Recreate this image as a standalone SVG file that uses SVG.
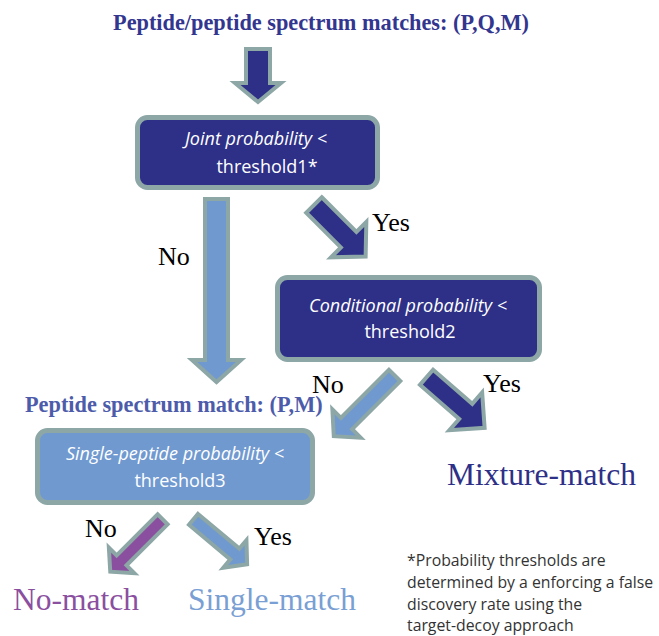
<svg xmlns="http://www.w3.org/2000/svg" width="659" height="636" viewBox="0 0 659 636">
<style>
.box{stroke:#8da6a6;stroke-width:5}
.arr{stroke:#8da6a6;stroke-width:4;stroke-linejoin:miter}
.dark{fill:#2e3087}
.light{fill:#7099d0}
.purple{fill:#8b4f9f}
.bt{font-family:"Open Sans","Noto Sans",sans-serif;font-size:18px;fill:#ffffff;text-anchor:middle}
.it{font-style:italic}
.lab{font-family:"Liberation Serif","Times New Roman",serif;font-size:26px;fill:#000000}
.title{font-family:"Liberation Serif","Times New Roman",serif;font-weight:bold;font-size:22.3px}
.res{font-family:"Liberation Serif","Times New Roman",serif;font-size:31.5px}
.note{font-family:"Open Sans","Noto Sans",sans-serif;font-size:15.8px;fill:#333333}
</style>
<g id="title1"><text class="title" x="321" y="30" text-anchor="middle" fill="#33368f">Peptide/peptide spectrum matches: (P,Q,M)</text></g>

<g id="connectors">
  <path class="arr dark" transform="translate(258,49) rotate(90)" d="M0,-12 L34,-12 L34,-23 L53,0 L34,23 L34,12 L0,12 Z"/>
  <path class="arr light" transform="translate(216.5,199) rotate(90)" d="M0,-11.5 L161,-11.5 L161,-24.5 L183,0 L161,24.5 L161,11.5 L0,11.5 Z"/>
  <path class="arr dark" transform="translate(314,205) rotate(45)" d="M0,-11 L49,-11 L49,-25 L73,0 L49,25 L49,11 L0,11 Z"/>
  <path class="arr light" transform="translate(394.6,375.4) rotate(135)" d="M0,-8 L68,-8 L68,-20 L86,0 L68,20 L68,8 L0,8 Z"/>
  <path class="arr dark" transform="translate(426.5,377.3) rotate(41)" d="M0,-10 L52,-10 L52,-25 L77,0 L52,25 L52,10 L0,10 Z"/>
  <path class="arr purple" transform="translate(162.6,519.4) rotate(135)" d="M0,-7 L58,-7 L58,-18 L74,0 L58,18 L58,7 L0,7 Z"/>
  <path class="arr light" transform="translate(193.5,519.3) rotate(40)" d="M0,-7 L54,-7 L54,-18 L70,0 L54,18 L54,7 L0,7 Z"/>
  <text class="lab" x="158" y="265">No</text>
  <text class="lab" x="372" y="231">Yes</text>
  <text class="lab" x="312" y="393">No</text>
  <text class="lab" x="483" y="392">Yes</text>
  <text class="lab" x="85" y="537">No</text>
  <text class="lab" x="254" y="545">Yes</text>
</g>

<g id="box1">
  <rect class="box dark" x="137.5" y="117.5" width="240" height="70" rx="10"/>
  <text class="bt it" x="256" y="145">Joint probability &lt;</text>
  <text class="bt" x="267" y="173">threshold1*</text>
</g>

<g id="box2">
  <rect class="box dark" x="277.5" y="277.5" width="262" height="82" rx="10"/>
  <text class="bt it" x="408" y="312">Conditional probability &lt;</text>
  <text class="bt" x="410" y="338">threshold2</text>
</g>

<g id="title2"><text class="title" x="25" y="412" fill="#4d5caa">Peptide spectrum match: (P,M)</text></g>

<g id="box3">
  <rect class="box light" x="37.5" y="430.5" width="275" height="72" rx="10"/>
  <text class="bt it" x="175" y="460">Single-peptide probability &lt;</text>
  <text class="bt" x="180" y="487">threshold3</text>
</g>

<g id="nomatch"><text class="res" x="13" y="610" fill="#8b4f9f">No-match</text></g>
<g id="singlematch"><text class="res" x="188" y="610" fill="#7a9fd4">Single-match</text></g>
<g id="mixturematch"><text class="res" x="447" y="485" fill="#2e3087">Mixture-match</text></g>

<g id="footnote">
  <text class="note" x="407" y="566">*Probability thresholds are</text>
  <text class="note" x="407" y="588">determined by a enforcing a false</text>
  <text class="note" x="407" y="610">discovery rate using the</text>
  <text class="note" x="407" y="631">target-decoy approach</text>
</g>
</svg>
